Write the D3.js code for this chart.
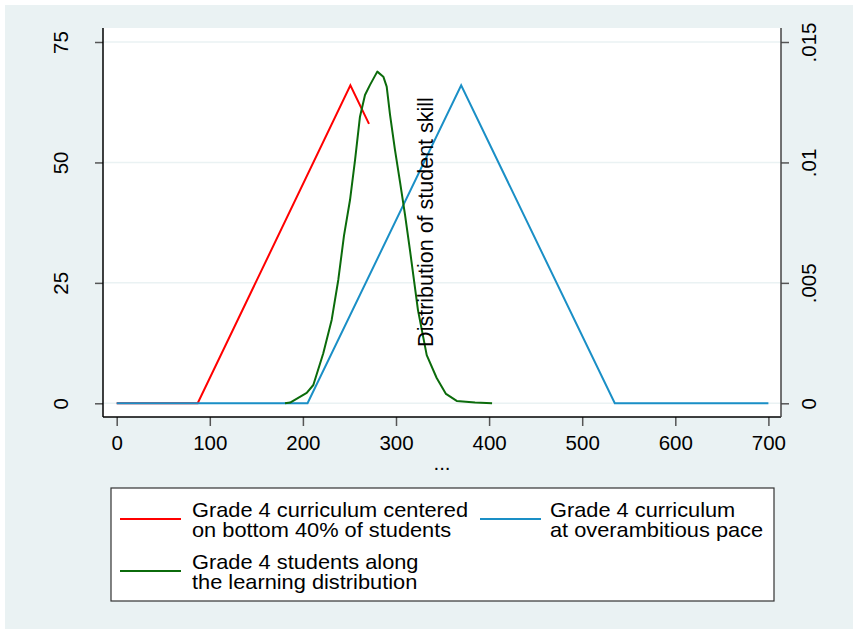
<!DOCTYPE html>
<html>
<head>
<meta charset="utf-8">
<script src="https://cdn.jsdelivr.net/npm/d3@7"></script>
<style>
  html, body { margin: 0; padding: 0; background: #ffffff; }
  svg { display: block; font-family: "Liberation Sans", Arial, Helvetica, sans-serif; }
</style>
</head>
<body>
<svg id="chart" width="853" height="629"></svg>
<script>
// ---- data ----
const xTicks = [0, 100, 200, 300, 400, 500, 600, 700];
const yLeftTicks = [0, 25, 50, 75];
const yRightTicks = [0, 0.005, 0.01, 0.015];
const yRightLabels = ["0", ".005", ".01", ".015"];

const redX = [0, 87, 251, 271];
const redY = [0, 0, 66, 58];

const blueX = [0, 205, 370, 535, 700];
const blueY = [0, 0, 66, 0, 0];

const greenX = [180.8, 186.3, 204.1, 211.2, 221.9, 230.9, 238.0, 244.1, 250.6, 256.0, 261.3, 266.7, 272.1, 279.9, 286.4, 290.0, 293.6, 298.9, 304.3, 309.7, 315.0, 323.6, 333.0, 343.7, 353.7, 365.2, 384.9, 403.2];
const greenY = [0, 0.00003, 0.00043, 0.00076, 0.00208, 0.00346, 0.00512, 0.00695, 0.00844, 0.0101, 0.0119, 0.0128, 0.01322, 0.01377, 0.01356, 0.01315, 0.01197, 0.01052, 0.00919, 0.00782, 0.00636, 0.00387, 0.0020, 0.00105, 0.00039, 0.0001, 0.00003, 0];

const legendLabels = [
  ["Grade 4 curriculum centered", "on bottom 40% of students"],
  ["Grade 4 curriculum", "at overambitious pace"],
  ["Grade 4 students along", "the learning distribution"]
];
const rightTitle = "Distribution of student skill";
const xTitle = "...";

// ---- layout ----
const svg = d3.select("#chart");
const W = 853, H = 629;
const plot = { x0: 103, x1: 781, y0: 28, y1: 417 };
const colors = { red: "#ff0000", blue: "#1a8fc6", green: "#0b6b0b", bg: "#eaf2f3" };

svg.append("rect").attr("x", 5).attr("y", 5).attr("width", W - 5).attr("height", H - 5).attr("fill", colors.bg);
svg.append("rect").attr("x", plot.x0).attr("y", plot.y0).attr("width", plot.x1 - plot.x0).attr("height", plot.y1 - plot.y0).attr("fill", "#ffffff");

const x = d3.scaleLinear().domain([0, 700]).range([116.7, 768.4]);
const yL = d3.scaleLinear().domain([0, 75]).range([403.3, 42]);
const yR = d3.scaleLinear().domain([0, 0.015]).range([403.3, 42]);

// gridlines
svg.append("g").selectAll("line").data(yLeftTicks).join("line")
  .attr("x1", plot.x0).attr("x2", plot.x1)
  .attr("y1", d => yL(d)).attr("y2", d => yL(d))
  .attr("stroke", colors.bg).attr("stroke-width", 1.5);

// series
const lineL = d3.line().x(d => x(d[0])).y(d => yL(d[1]));
const lineR = d3.line().x(d => x(d[0])).y(d => yR(d[1]));
const redData = redX.map((v, i) => [v, redY[i]]);
const blueData = blueX.map((v, i) => [v, blueY[i]]);
const greenData = greenX.map((v, i) => [v, greenY[i]]);

svg.append("path").attr("d", lineL(redData)).attr("fill", "none").attr("stroke", colors.red).attr("stroke-width", 2);
svg.append("path").attr("d", lineL(blueData)).attr("fill", "none").attr("stroke", colors.blue).attr("stroke-width", 2);
svg.append("path").attr("d", lineR(greenData)).attr("fill", "none").attr("stroke", colors.green).attr("stroke-width", 2).attr("stroke-linejoin", "round");

// axes
const tickColor = "#555555";
// bottom
const gx = svg.append("g").attr("transform", `translate(0,${plot.y1})`)
  .call(d3.axisBottom(x).tickValues(xTicks).tickSize(9).tickPadding(10).tickFormat(d3.format("d")));
gx.select(".domain").remove();
gx.selectAll(".tick line").attr("stroke", tickColor).attr("stroke-width", 1.5);
gx.selectAll(".tick text").attr("font-size", 20.5).attr("fill", "#000").attr("font-family", "Liberation Sans, Arial, sans-serif")
  .attr("dy", null).attr("y", 33);

// left
const gl = svg.append("g").attr("transform", `translate(${plot.x0},0)`)
  .call(d3.axisLeft(yL).tickValues(yLeftTicks).tickSize(8).tickFormat(d3.format("d")));
gl.select(".domain").remove();
gl.selectAll(".tick line").attr("stroke", tickColor).attr("stroke-width", 1.5);
gl.selectAll(".tick text").attr("font-size", 20.5).attr("fill", "#000").attr("font-family", "Liberation Sans, Arial, sans-serif")
  .attr("x", null).attr("dy", null).attr("text-anchor", "middle")
  .attr("transform", "translate(-35,0) rotate(-90)");

// right
const gr = svg.append("g").attr("transform", `translate(${plot.x1},0)`)
  .call(d3.axisRight(yR).tickValues(yRightTicks).tickSize(8).tickFormat((d, i) => yRightLabels[i]));
gr.select(".domain").remove();
gr.selectAll(".tick line").attr("stroke", tickColor).attr("stroke-width", 1.5);
gr.selectAll(".tick text").attr("font-size", 20.5).attr("fill", "#000").attr("font-family", "Liberation Sans, Arial, sans-serif")
  .attr("x", null).attr("dy", null).attr("text-anchor", "middle")
  .attr("transform", "translate(35,0) rotate(-90)");

// axis lines
svg.append("line").attr("x1", plot.x0).attr("x2", plot.x0).attr("y1", plot.y0).attr("y2", plot.y1).attr("stroke", "#000").attr("stroke-width", 1.5);
svg.append("line").attr("x1", plot.x0).attr("x2", plot.x1).attr("y1", plot.y1).attr("y2", plot.y1).attr("stroke", "#000").attr("stroke-width", 1.5);
svg.append("line").attr("x1", plot.x1).attr("x2", plot.x1).attr("y1", plot.y0).attr("y2", plot.y1).attr("stroke", "#444").attr("stroke-width", 1.5);

// titles
svg.append("text").attr("transform", `translate(433,222) rotate(-90)`)
  .attr("text-anchor", "middle").attr("font-size", 21.5).attr("fill", "#000").text(rightTitle);
svg.append("text").attr("x", (plot.x0 + plot.x1) / 2).attr("y", 470)
  .attr("text-anchor", "middle").attr("font-size", 20.5).attr("fill", "#000").text(xTitle);

// legend
const lg = svg.append("g");
lg.append("rect").attr("x", 111).attr("y", 488).attr("width", 663).attr("height", 113)
  .attr("fill", "#fff").attr("stroke", "#333").attr("stroke-width", 1.2);
const legendItems = [
  { color: colors.red, sx: 120, sy: 519, tx: 192, ty: 517, lines: legendLabels[0] },
  { color: colors.blue, sx: 480, sy: 519, tx: 550, ty: 517, lines: legendLabels[1] },
  { color: colors.green, sx: 120, sy: 571, tx: 192, ty: 569.5, lines: legendLabels[2] }
];
legendItems.forEach(it => {
  lg.append("line").attr("x1", it.sx).attr("x2", it.sx + 61).attr("y1", it.sy).attr("y2", it.sy)
    .attr("stroke", it.color).attr("stroke-width", 2);
  const tg = lg.append("g").attr("transform", `translate(${it.tx},0) scale(1.038,1)`);
  const t = tg.append("text").attr("font-size", 21).attr("fill", "#000");
  it.lines.forEach((l, i) => {
    t.append("tspan").attr("x", 0).attr("y", it.ty + i * 19.8).text(l);
  });
});
</script>
</body>
</html>
